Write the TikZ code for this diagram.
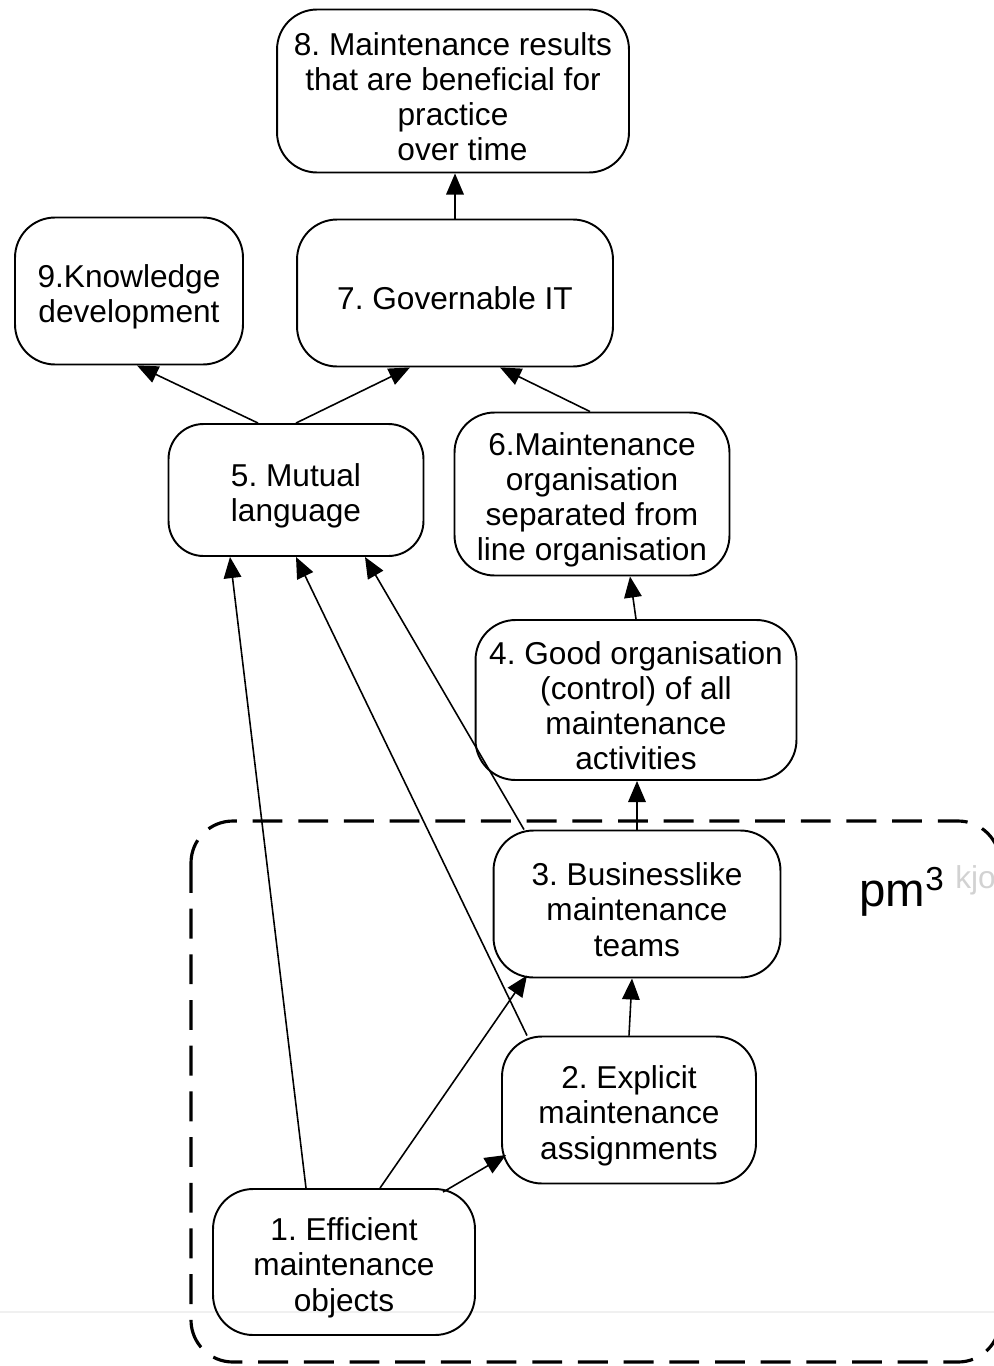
\documentclass[tikz,border=0pt]{standalone}
\usepackage{fontspec}
\setmainfont{Liberation Sans}
\frenchspacing
\usetikzlibrary{arrows.meta,calc}
\newcommand{\toprow}{\rule{0pt}{19.5pt}}

\begin{document}
\begin{tikzpicture}[x=0.02cm, y=-0.02cm, >={Triangle[length=12pt,width=10pt]},
        goal/.style={rectangle,rounded corners=0.8cm,draw=black,line width=1.1pt,
          align=center,inner sep=0pt,font=\fontsize{18}{20}\selectfont},
        link/.style={->,line width=0.9pt},
        region/.style={draw=black,line width=1.8pt,dash pattern=on 17pt off 9pt,rounded corners=0.84cm}]
        \useasboundingbox (0,0) rectangle (994,1366);
        \draw[gray!12,line width=1.5pt] (0,1312) -- (994,1312);
        % pm3 region
        \draw[region] (191,821) rectangle (1000,1362);
        \node[anchor=base west,inner sep=0pt,font=\fontsize{27}{30}\selectfont] at (859,906) (pm) {pm\textsuperscript{3}};
        \node[anchor=base west,inner sep=0pt,text=gray!35,font=\fontsize{18}{20}\selectfont] at (955,888) (kjo) {kjo};
        % goals
        \node[goal,minimum width=7.04cm,minimum height=3.26cm] at (453,91) (n8) {\toprow 8. Maintenance results\\that are beneficial for\\practice\\\hspace*{0.6em}over time};
        \node[goal,minimum width=4.56cm,minimum height=2.94cm] at (129,291) (n9) {\toprow 9.Knowledge\\development};
        \node[goal,minimum width=6.32cm,minimum height=2.94cm] at (455,293) (n7) {\toprow 7. Governable IT};
        \node[goal,minimum width=5.10cm,minimum height=2.64cm,rounded corners=0.7cm] at (296,490) (n5) {\toprow 5. Mutual\\language};
        \node[goal,minimum width=5.50cm,minimum height=3.26cm] at (592,494) (n6) {\toprow 6.Maintenance\\organisation\\separated from\\line organisation};
        \node[goal,minimum width=6.42cm,minimum height=3.20cm] at (636,700) (n4) {\toprow 4. Good organisation\\(control) of all\\maintenance\\activities};
        \node[goal,minimum width=5.74cm,minimum height=2.94cm] at (637,904) (n3) {\toprow 3. Businesslike\\maintenance\\teams};
        \node[goal,minimum width=5.08cm,minimum height=2.94cm] at (629,1110) (n2) {\toprow 2. Explicit\\maintenance\\assignments};
        \node[goal,minimum width=5.24cm,minimum height=2.92cm] at (344,1262) (n1) {\toprow 1. Efficient\\maintenance\\objects};
        % links
        \draw[link] (n7.north) to (n7.north |- n8.south);
        \draw[link] ($(n5.north)+(-38,0)$) to ($(n9.south)+(8,0)$);
        \draw[link] (n5.north) to ($(n7.south)+(-45,0)$);
        \draw[link] ($(n6.north)+(-2,0)$) to ($(n7.south)+(45,0)$);
        \draw[link] (n4.north) to ($(n6.south)+(38,0)$);
        \draw[link] (n3.north) to (n3.north |- n4.south);
        \draw[link] ($(n1.north)+(-38,0)$) to ($(n5.south)+(-66,0)$);
        \draw[link] ($(n2.north)+(-102,0)$) to (n5.south);
        \draw[link] ($(n3.north)+(-113,0)$) to ($(n5.south)+(69,0)$);
        \draw[link] ($(n1.north)+(36,0)$) to ($(n3.south)+(-110,-3)$);
        \draw[link] ($(n1.north)+(99,4)$) to ($(n2.west)+(5,45)$);
        \draw[link] (n2.north) to ($(n3.south)+(-5,0)$);
      \end{tikzpicture}
\end{document}
